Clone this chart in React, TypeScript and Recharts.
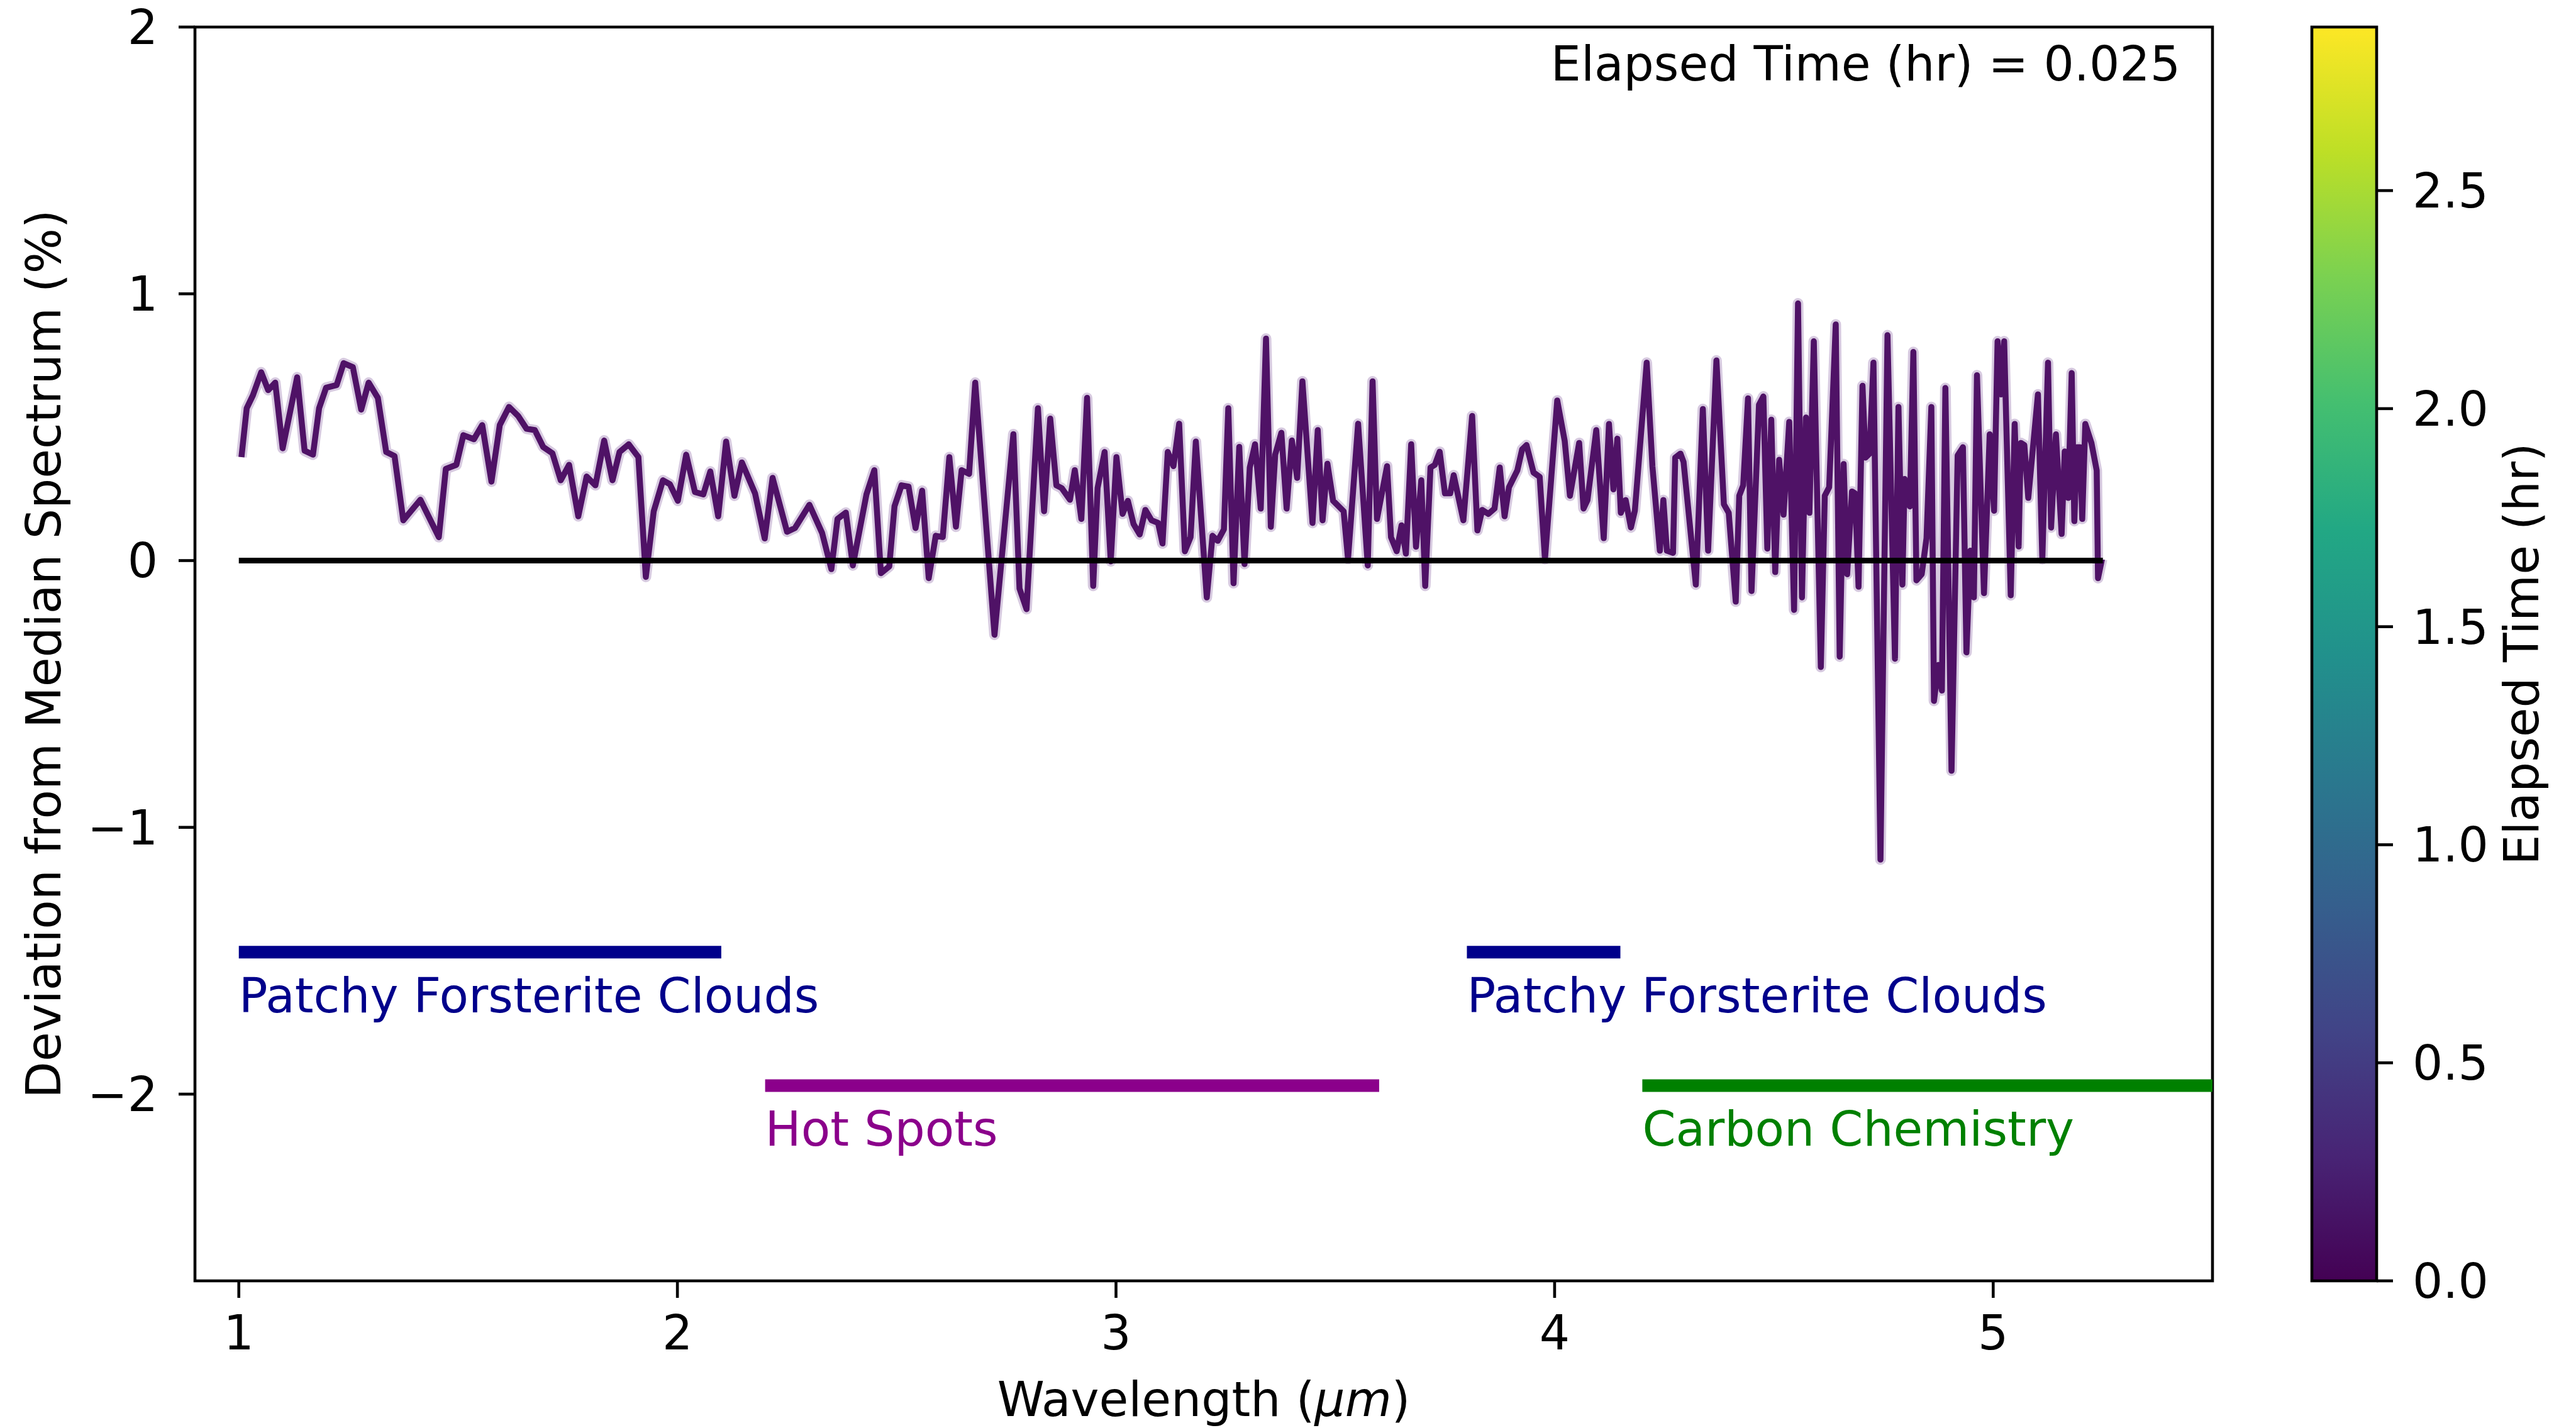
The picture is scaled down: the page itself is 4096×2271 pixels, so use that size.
import React from "react";
import { ComposedChart, Line, XAxis, YAxis, ReferenceLine, ReferenceArea } from "recharts";

// spectrum: wavelength (um) and deviation (%)
const wavelength = [
  1.006, 1.018, 1.032, 1.051, 1.067, 1.083, 1.1, 1.133, 1.15, 1.169, 1.183, 1.199, 1.223, 1.239, 1.26, 1.279, 1.296, 1.317,
  1.336, 1.355, 1.375, 1.414, 1.456, 1.472, 1.496, 1.512, 1.536, 1.555, 1.576, 1.595, 1.616, 1.637, 1.656, 1.675, 1.694, 1.715,
  1.734, 1.753, 1.774, 1.793, 1.813, 1.833, 1.852, 1.868, 1.889, 1.911, 1.928, 1.946, 1.967, 1.983, 2.001, 2.02, 2.04, 2.059,
  2.075, 2.093, 2.111, 2.13, 2.147, 2.177, 2.199, 2.217, 2.25, 2.268, 2.301, 2.33, 2.351, 2.365, 2.384, 2.4, 2.431,
  2.449, 2.464, 2.483, 2.495, 2.511, 2.527, 2.543, 2.558, 2.573, 2.589, 2.605, 2.62, 2.635, 2.648, 2.665, 2.679, 2.723, 2.766,
  2.78, 2.796, 2.822, 2.836, 2.85, 2.864, 2.876, 2.895, 2.906, 2.921, 2.934, 2.948, 2.958, 2.974, 2.988, 3.001, 3.015, 3.027,
  3.04, 3.054, 3.067, 3.081, 3.096, 3.106, 3.118, 3.131, 3.144, 3.157,
  3.17, 3.182, 3.207, 3.22, 3.232, 3.246, 3.256, 3.268, 3.281, 3.293, 3.305, 3.317, 3.33, 3.342, 3.353, 3.363, 3.377, 3.389,
  3.401, 3.413, 3.425, 3.448, 3.46, 3.471, 3.482, 3.495, 3.519, 3.529, 3.552, 3.574, 3.585, 3.595, 3.618, 3.627, 3.64, 3.651,
  3.661, 3.673, 3.684, 3.696, 3.705, 3.717, 3.727, 3.738, 3.75, 3.762, 3.77, 3.792, 3.812, 3.824, 3.835, 3.849, 3.863, 3.875, 3.886,
  3.896, 3.915, 3.926, 3.936, 3.952, 3.966, 3.978, 4.006, 4.023, 4.035, 4.056, 4.066, 4.075, 4.095, 4.112, 4.124, 4.134, 4.143,
  4.151, 4.162, 4.174, 4.183, 4.21, 4.223, 4.24, 4.248, 4.256, 4.27, 4.275, 4.287, 4.294, 4.322, 4.338, 4.35, 4.369, 4.386,
  4.397, 4.413, 4.421, 4.43, 4.441, 4.449, 4.466, 4.476, 4.485, 4.494, 4.503, 4.512, 4.522, 4.535, 4.546, 4.555, 4.564, 4.573,
  4.581, 4.591, 4.607,
  4.616, 4.626, 4.641, 4.65, 4.659, 4.667, 4.678, 4.685, 4.693, 4.702, 4.709, 4.718, 4.727, 4.743, 4.759, 4.776, 4.784, 4.793,
  4.798, 4.81, 4.818, 4.825, 4.837, 4.848, 4.859, 4.865, 4.875, 4.883, 4.891, 4.905, 4.919, 4.931, 4.939, 4.948, 4.956, 4.963,
  4.979, 4.992, 5.002, 5.01, 5.018, 5.025, 5.04, 5.049, 5.058, 5.063, 5.071, 5.08, 5.102, 5.112, 5.125, 5.132, 5.143, 5.156,
  5.163, 5.171, 5.179, 5.185, 5.191, 5.198, 5.203, 5.21, 5.224, 5.236, 5.239, 5.248,
];
const deviation = [
  0.388, 0.571, 0.619, 0.706, 0.639, 0.667, 0.421, 0.687, 0.412, 0.397, 0.571, 0.648, 0.658, 0.74, 0.725, 0.566, 0.667, 0.61,
  0.407, 0.392, 0.151, 0.228, 0.088, 0.344, 0.359, 0.47, 0.455, 0.508, 0.296, 0.508, 0.576, 0.542, 0.494, 0.489, 0.426, 0.402,
  0.301, 0.359, 0.166, 0.315, 0.282, 0.45, 0.301, 0.407, 0.436, 0.388, -0.061, 0.185, 0.301, 0.286, 0.224, 0.397, 0.257, 0.248,
  0.334, 0.166, 0.446, 0.243, 0.368, 0.252, 0.083, 0.31, 0.108, 0.122, 0.209, 0.103, -0.032, 0.156, 0.18, -0.018, 0.248,
  0.339, -0.047, -0.022, 0.204, 0.282, 0.277, 0.122, 0.262, -0.066, 0.093, 0.088, 0.388, 0.127, 0.339, 0.325, 0.667, -0.278, 0.474,
  -0.105, -0.182, 0.571, 0.185, 0.532, 0.282, 0.272, 0.228, 0.339, 0.156, 0.61, -0.095, 0.272, 0.407, -0.003, 0.388, 0.175, 0.224,
  0.137, 0.098, 0.19, 0.151, 0.141, 0.064, 0.407, 0.354, 0.513, 0.035,
  0.088, 0.446, -0.138, 0.093, 0.074, 0.117, 0.571, -0.085, 0.426, -0.013, 0.349, 0.436, 0.195, 0.832, 0.127, 0.397, 0.479, 0.195,
  0.45, 0.31, 0.672, 0.141, 0.489, 0.151, 0.363, 0.224, 0.185, 0.006, 0.513, -0.018, 0.672, 0.156, 0.354, 0.088, 0.035, 0.132,
  0.026, 0.436, 0.052, 0.301, -0.095, 0.349, 0.359, 0.408, 0.252, 0.252, 0.32, 0.151, 0.542, 0.113, 0.19, 0.175, 0.195, 0.349, 0.166,
  0.275, 0.338, 0.417, 0.433, 0.33, 0.314, 0.005, 0.6, 0.449, 0.243, 0.441, 0.195, 0.227, 0.489, 0.084, 0.512, 0.267, 0.457,
  0.179, 0.227, 0.124, 0.187, 0.742, 0.354, 0.037, 0.227, 0.037, 0.029, 0.386, 0.401, 0.37, -0.09, 0.568, 0.037, 0.75, 0.211,
  0.179, -0.154, 0.243, 0.282, 0.608, -0.114, 0.584, 0.615, 0.045, 0.528, -0.043, 0.378, 0.172, 0.52, -0.185, 0.964, -0.138, 0.536,
  0.179, 0.822, -0.399,
  0.243, 0.275, 0.885, -0.36, 0.362, -0.051, 0.259, 0.252, -0.098, 0.655, 0.386, 0.401, 0.742, -1.121, 0.845, -0.368, 0.576, -0.09,
  0.306, 0.203, 0.782, -0.074, -0.051, 0.084, 0.576, -0.526, -0.391, -0.487, 0.647, -0.788, 0.394, 0.425, -0.344, 0.037, -0.138, 0.695,
  -0.122, 0.473, 0.187, 0.822, 0.623, 0.822, -0.13, 0.512, 0.053, 0.441, 0.433, 0.235, 0.623, 0.005, 0.742, 0.124, 0.473, 0.1,
  0.409, 0.235, 0.703, 0.148, 0.425, 0.425, 0.156, 0.512, 0.441, 0.338, -0.066, 0.005,
];

const zeroSpan = [1.0, 5.25];

const regionNames = ["Patchy Forsterite Clouds", "Patchy Forsterite Clouds", "Hot Spots", "Carbon Chemistry"];
const regionStart = [1.0, 3.8, 2.2, 4.2];
const regionEnd = [2.1, 4.15, 3.6, 5.5];
const regionLevel = [-1.468, -1.468, -1.968, -1.968];
const regionColor = ["#00008b", "#00008b", "#8b008b", "#008000"];

const xTicks = [1, 2, 3, 4, 5];
const yTicks = [-2, -1, 0, 1, 2];
const cbarTicks = [0, 0.5, 1, 1.5, 2, 2.5];
const elapsedHr = 0.025;
const cbarMax = 2.875;

const viridis = ["#440154", "#482475", "#414487", "#355f8d", "#2a788e", "#21918c", "#22a884", "#44bf70", "#7ad151", "#bddf26", "#fde725"];

const W = 4096;
const H = 2271;
const FONT = "DejaVu Sans";
const FS = 76;
const SPINE = 4.6;

const spectrum = wavelength.map((w, i) => ({ w, d: deviation[i] }));
const zeroLine = zeroSpan.map((w) => ({ w, d: 0 }));

const minus = (v: number) => (v < 0 ? `\u2212${Math.abs(v)}` : `${v}`);

export default function App() {
  const tickStyle = { fill: "#000", fontSize: FS, fontFamily: FONT };
  return (
    <div style={{ position: "fixed", left: 0, top: 0, width: W, height: H, background: "#fff" }}>
      <div style={{ position: "absolute", left: 0, top: 0 }}>
        <ComposedChart width={W} height={H} data={spectrum} margin={{ top: 43, right: 578, bottom: 0, left: 0 }}>
          <XAxis
            dataKey="w"
            type="number"
            domain={[0.9, 5.5]}
            allowDataOverflow
            ticks={xTicks}
            height={234}
            axisLine={false}
            tickLine={{ stroke: "#000", strokeWidth: SPINE }}
            tickSize={27}
            tickMargin={28}
            tick={tickStyle}
            label={(p: any) => {
              const vb = p.viewBox;
              return (
                <text x={vb.x + vb.width / 2} y={vb.y + 215} textAnchor="middle" fontSize={FS} fontFamily={FONT} fill="#000">
                  Wavelength (<tspan fontStyle="italic">μm</tspan>)
                </text>
              );
            }}
          />
          <YAxis
            type="number"
            domain={[-2.7, 2]}
            allowDataOverflow
            ticks={yTicks}
            width={310}
            axisLine={false}
            tickLine={{ stroke: "#000", strokeWidth: SPINE }}
            tickSize={26}
            tickMargin={33}
            tick={tickStyle}
            tickFormatter={minus}
            label={(p: any) => {
              const vb = p.viewBox;
              const cy = vb.y + vb.height / 2;
              return (
                <text x={96} y={cy} transform={`rotate(-90, 96, ${cy})`} textAnchor="middle" fontSize={FS} fontFamily={FONT} fill="#000">
                  Deviation from Median Spectrum (%)
                </text>
              );
            }}
          />
          <ReferenceArea
            x1={0.9}
            x2={5.5}
            y1={-2.7}
            y2={2}
            fill="none"
            fillOpacity={0}
            stroke="#000"
            strokeWidth={SPINE}
            label={(p: any) => {
              const vb = p.viewBox;
              return (
                <text x={vb.x + vb.width - 51} y={vb.y + 85} textAnchor="end" fontSize={FS} fontFamily={FONT} fill="#000">
                  {`Elapsed Time (hr) = ${elapsedHr}`}
                </text>
              );
            }}
          />
          {regionNames.map((name, i) => (
            <ReferenceLine
              key={i}
              segment={[
                { x: regionStart[i], y: regionLevel[i] },
                { x: regionEnd[i], y: regionLevel[i] },
              ]}
              stroke={regionColor[i]}
              strokeWidth={20}
              label={(p: any) => {
                const vb = p.viewBox;
                return (
                  <text x={vb.x} y={vb.y + 96} textAnchor="start" fontSize={FS} fontFamily={FONT} fill={regionColor[i]}>
                    {name}
                  </text>
                );
              }}
            />
          ))}
          <Line
            data={spectrum}
            dataKey="d"
            type="linear"
            stroke="#b79fc6"
            strokeOpacity={0.55}
            strokeWidth={17}
            strokeLinejoin="round"
            dot={false}
            activeDot={false}
            isAnimationActive={false}
          />
          <Line
            data={spectrum}
            dataKey="d"
            type="linear"
            stroke="#4f1266"
            strokeWidth={9.5}
            strokeLinejoin="round"
            dot={false}
            activeDot={false}
            isAnimationActive={false}
          />
          <Line
            data={zeroLine}
            dataKey="d"
            type="linear"
            stroke="#000"
            strokeWidth={9}
            dot={false}
            activeDot={false}
            isAnimationActive={false}
          />
        </ComposedChart>
      </div>
      <div style={{ position: "absolute", left: 0, top: 0 }}>
        <ComposedChart
          width={W}
          height={H}
          data={[{ x: 0, t: 0 }, { x: 1, t: cbarMax }]}
          margin={{ top: 43, right: 0, bottom: 234, left: 3676 }}
        >
          <defs>
            <linearGradient id="viridis" x1="0" y1="1" x2="0" y2="0">
              {viridis.map((c, i) => (
                <stop key={i} offset={`${(i / (viridis.length - 1)) * 100}%`} stopColor={c} />
              ))}
            </linearGradient>
          </defs>
          <XAxis dataKey="x" type="number" domain={[0, 1]} hide />
          <YAxis
            orientation="right"
            type="number"
            domain={[0, cbarMax]}
            allowDataOverflow
            ticks={cbarTicks}
            width={317}
            axisLine={false}
            tickLine={{ stroke: "#000", strokeWidth: SPINE }}
            tickSize={26}
            tickMargin={31}
            tick={tickStyle}
            tickFormatter={(v: number) => v.toFixed(1)}
            label={(p: any) => {
              const vb = p.viewBox;
              const cy = vb.y + vb.height / 2;
              return (
                <text x={4036} y={cy} transform={`rotate(-90, 4036, ${cy})`} textAnchor="middle" fontSize={FS} fontFamily={FONT} fill="#000">
                  Elapsed Time (hr)
                </text>
              );
            }}
          />
          <ReferenceArea x1={0} x2={1} y1={0} y2={cbarMax} fill="url(#viridis)" fillOpacity={1} stroke="#000" strokeWidth={SPINE} />
        </ComposedChart>
      </div>
    </div>
  );
}
